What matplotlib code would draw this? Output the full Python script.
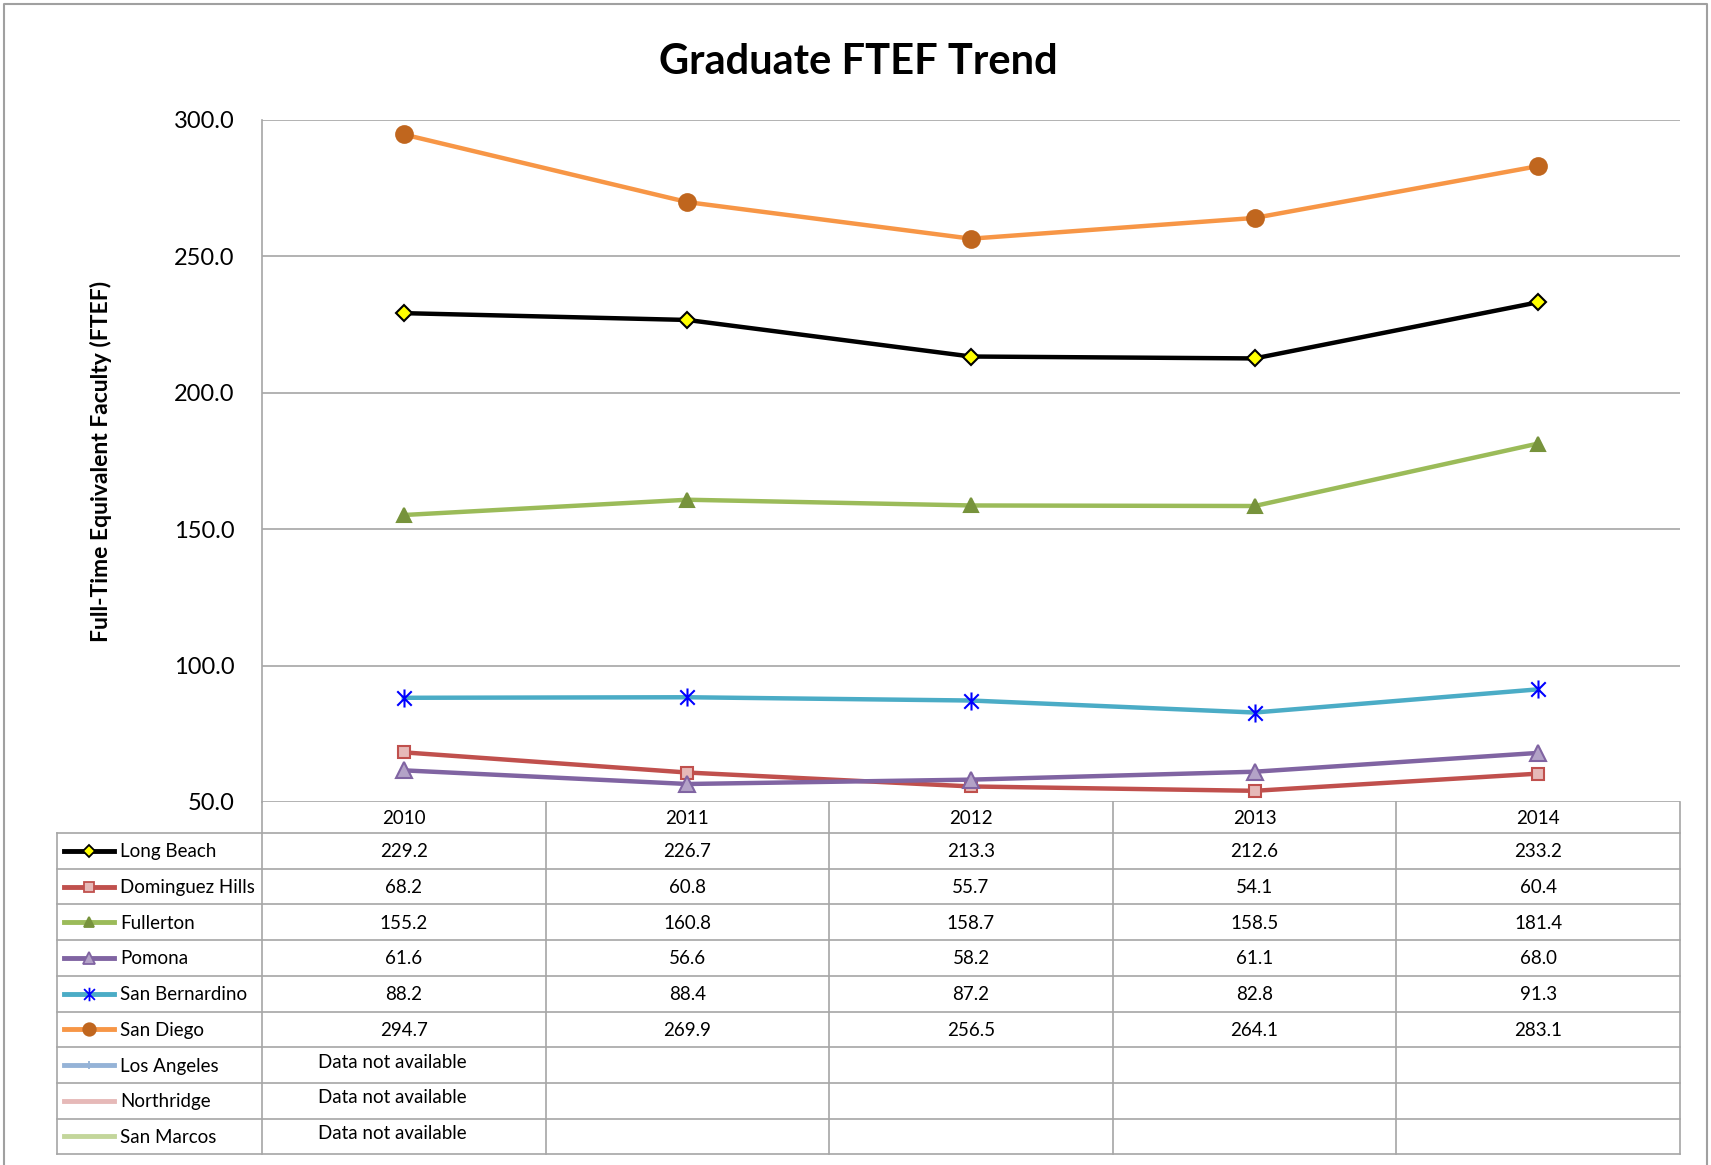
import matplotlib
matplotlib.use("Agg")
import matplotlib.pyplot as plt
import matplotlib.transforms as mtransforms
from matplotlib.lines import Line2D
from matplotlib.path import Path

plt.rcParams['font.family'] = ['Lato', 'DejaVu Sans']

years = ["2010", "2011", "2012", "2013", "2014"]
campuses = ["Long Beach", "Dominguez Hills", "Fullerton", "Pomona",
            "San Bernardino", "San Diego", "Los Angeles", "Northridge", "San Marcos"]
long_beach = [229.2, 226.7, 213.3, 212.6, 233.2]
dominguez_hills = [68.2, 60.8, 55.7, 54.1, 60.4]
fullerton = [155.2, 160.8, 158.7, 158.5, 181.4]
pomona = [61.6, 56.6, 58.2, 61.1, 68.0]
san_bernardino = [88.2, 88.4, 87.2, 82.8, 91.3]
san_diego = [294.7, 269.9, 256.5, 264.1, 283.1]
series = [long_beach, dominguez_hills, fullerton, pomona, san_bernardino, san_diego,
          None, None, None]

# excel style asterisk: an X with a vertical bar through it
asterisk = Path([(-1, -1), (1, 1), (-1, 1), (1, -1), (0, -1.25), (0, 1.25)],
                [Path.MOVETO, Path.LINETO, Path.MOVETO, Path.LINETO, Path.MOVETO, Path.LINETO])

# line color, marker, marker face, marker edge, marker size
styles = [
    ("#000000", "D", "#FFFF00", "#000000", 8),
    ("#C0504D", "s", "#E6B9B8", "#C0504D", 9),
    ("#9BBB59", "^", "#77933C", "#77933C", 10),
    ("#8064A2", "^", "#B3A2C7", "#8064A2", 11),
    ("#4BACC6", asterisk, "#0000FF", "#0000FF", 13),
    ("#F79646", "o", "#C0661E", "#C0661E", 12),
    ("#95B3D7", "|", "#95B3D7", "#95B3D7", 8),
    ("#E6B9B8", None, "#E6B9B8", "#E6B9B8", 8),
    ("#C3D69B", None, "#C3D69B", "#C3D69B", 8),
]

W, H = 1711, 1165
fig = plt.figure(figsize=(W / 100, H / 100), dpi=100)

# pixel layout
px_left, px_right, px_top, px_bot = 262, 1680, 120, 802
ax = fig.add_axes([px_left / W, 1 - px_bot / H, (px_right - px_left) / W, (px_bot - px_top) / H])
tax = fig.add_axes([0, 0, 1, 1], zorder=-1)
tax.set_xlim(0, W)
tax.set_ylim(H, 0)
tax.axis("off")

x = range(len(years))
for vals, (lc, mk, mf, me, ms) in zip(series, styles):
    if vals is None:
        continue
    ax.plot(x, vals, color=lc, lw=3.2, marker=mk, markerfacecolor=mf,
            markeredgecolor=me, markersize=ms, markeredgewidth=1.5,
            clip_on=False, zorder=3)

ax.set_xlim(-0.5, len(years) - 0.5)
ax.set_ylim(50, 300)
ax.set_yticks([50, 100, 150, 200, 250, 300])
ax.set_yticklabels([f"{v:.1f}" for v in [50, 100, 150, 200, 250, 300]], fontsize=17)
ax.tick_params(axis="y", length=0, pad=20)
ax.set_xticks([])
ax.grid(axis="y", color="#A6A6A6", lw=1.2)
for s in ["top", "right", "bottom"]:
    ax.spines[s].set_visible(False)
ax.spines["left"].set_color("#A6A6A6")
ax.spines["left"].set_linewidth(1.2)
ax.set_facecolor("none")

fig.text(858 / W, 1 - 62 / H, "Graduate FTEF Trend", fontsize=30, fontweight="bold",
         ha="center", va="center")
fig.text(101 / W, 1 - 461 / H, "Full-Time Equivalent Faculty (FTEF)", fontsize=16.5,
         fontweight="bold", rotation=90, ha="center", va="center")

# data table under the axis
blend = mtransforms.blended_transform_factory(ax.transData, tax.transData)
grid_c = "#A6A6A6"
head_top, head_bot, row_h = 802, 833, 35.7
n_rows = len(campuses)
tab_bot = head_bot + row_h * n_rows
tab_left = 57

tax.plot([tab_left, px_right], [head_bot, head_bot], color=grid_c, lw=1.2)
for r in range(1, n_rows + 1):
    y = head_bot + row_h * r
    tax.plot([tab_left, px_right], [y, y], color=grid_c, lw=1.2)
tax.plot([tab_left, tab_left], [head_bot, tab_bot], color=grid_c, lw=1.2)
tax.plot([px_left, px_left], [head_top, tab_bot], color=grid_c, lw=1.2)
for i in range(len(years)):
    tax.plot([i + 0.5, i + 0.5], [head_top, tab_bot], color=grid_c, lw=1.2, transform=blend)

for i, yr in enumerate(years):
    tax.text(i, (head_top + head_bot) / 2 + 1, yr, transform=blend, ha="center", va="center",
             fontsize=13.5)

for r, (name, vals, (lc, mk, mf, me, ms)) in enumerate(zip(campuses, series, styles)):
    yc = head_bot + row_h * (r + 0.5)
    tax.add_line(Line2D([64, 114], [yc, yc], color=lc, lw=3.5))
    if mk is not None:
        tax.plot([89], [yc], marker=mk, markerfacecolor=mf, markeredgecolor=me,
                 markersize=ms * 0.75, markeredgewidth=1.3, color=lc)
    tax.text(120, yc + 1, name, ha="left", va="center", fontsize=13.5)
    if vals is None:
        tax.text(-0.04, yc - 3, "Data not available", transform=blend, ha="center",
                 va="center", fontsize=13.5)
    else:
        for i, v in enumerate(vals):
            tax.text(i, yc + 1, f"{v:.1f}", transform=blend, ha="center", va="center",
                     fontsize=13.5)

# outer frame
tax.plot([4, 4, 1707, 1707], [H, 4, 4, H], color="#A0A0A0", lw=1.5)

fig.savefig("out.png", dpi=100)
